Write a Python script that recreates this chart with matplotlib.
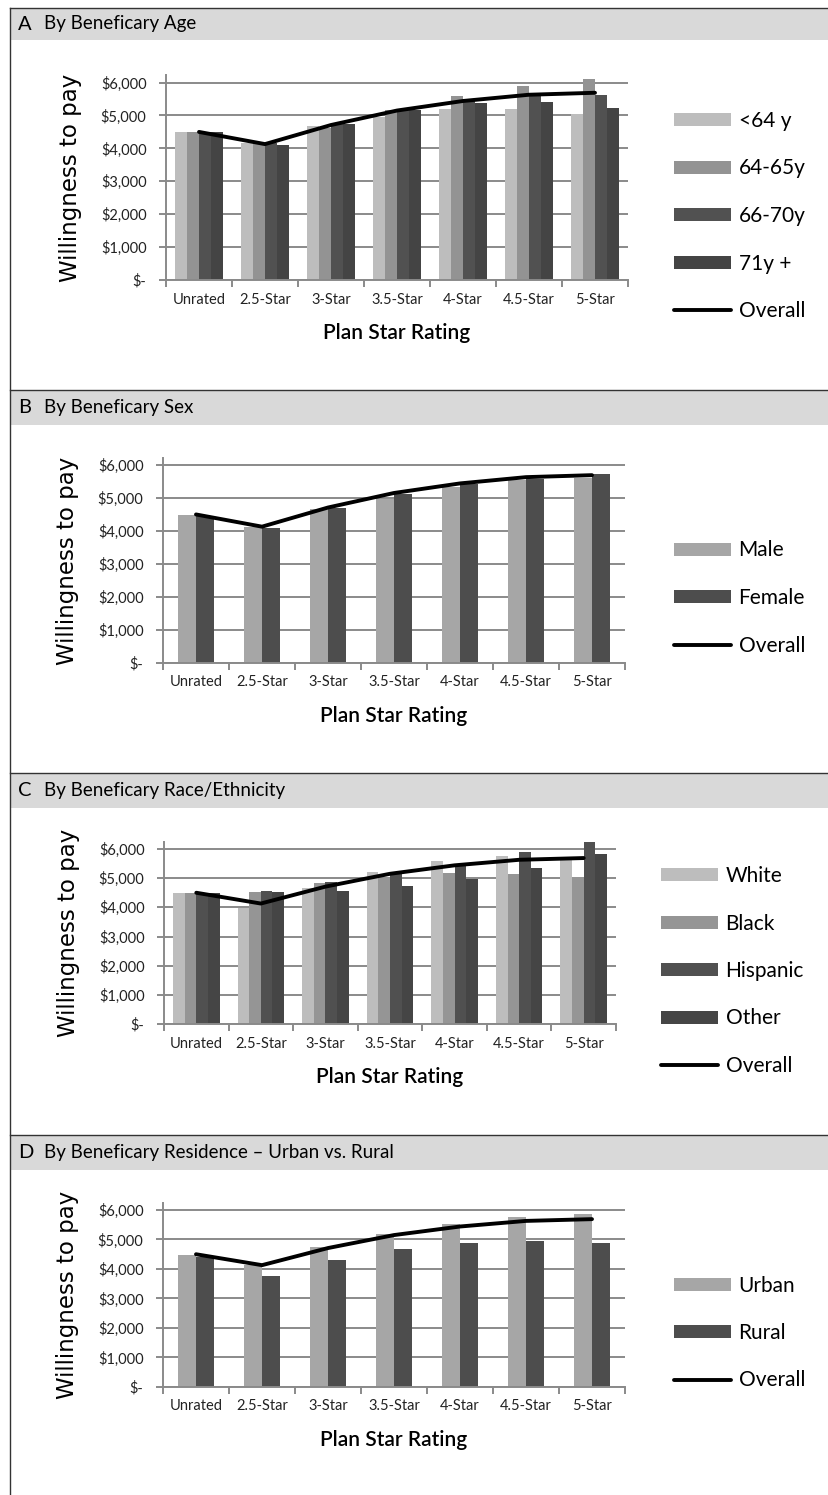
import numpy as np
import matplotlib.pyplot as plt
from matplotlib.patches import Rectangle
from matplotlib.lines import Line2D

plt.rcParams['font.family'] = ['Lato', 'DejaVu Sans']

W, H = 829, 1495

categories = ['Unrated', '2.5-Star', '3-Star', '3.5-Star', '4-Star', '4.5-Star', '5-Star']
overall = [4500, 4130, 4710, 5150, 5440, 5630, 5690]

# A: age groups
age_labels = ['<64 y', '64-65y', '66-70y', '71y +']
age_lt64 = [4500, 4160, 4680, 4950, 5190, 5200, 5050]
age_64_65 = [4500, 4160, 4620, 5170, 5600, 5900, 6110]
age_66_70 = [4500, 4160, 4740, 5170, 5450, 5640, 5630]
age_71 = [4500, 4100, 4740, 5170, 5370, 5420, 5240]

# B: sex
sex_labels = ['Male', 'Female']
sex_male = [4470, 4110, 4660, 4960, 5330, 5550, 5590]
sex_female = [4460, 4090, 4700, 5130, 5410, 5570, 5720]

# C: race / ethnicity
race_labels = ['White', 'Black', 'Hispanic', 'Other']
race_white = [4490, 3970, 4680, 5200, 5580, 5750, 5640]
race_black = [4490, 4510, 4830, 5030, 5170, 5150, 5030]
race_hispanic = [4490, 4570, 4870, 5140, 5430, 5900, 6270]
race_other = [4490, 4510, 4570, 4720, 4980, 5340, 5820]

# D: residence
res_labels = ['Urban', 'Rural']
res_urban = [4470, 4140, 4750, 5190, 5510, 5750, 5850]
res_rural = [4420, 3770, 4290, 4670, 4880, 4960, 4870]

ytick_vals = [0, 1000, 2000, 3000, 4000, 5000, 6000]
ytick_text = ['$-', '$1,000', '$2,000', '$3,000', '$4,000', '$5,000', '$6,000']

GRID = '#8a8a8a'

fig = plt.figure(figsize=(W / 100, H / 100), dpi=100)


def px_rect(left, top, right, bottom):
    return [left / W, 1 - bottom / H, (right - left) / W, (bottom - top) / H]


def header(top, bottom, letter, title):
    fig.patches.append(Rectangle((10 / W, 1 - bottom / H), 1, (bottom - top) / H,
                                 transform=fig.transFigure, facecolor='#d9d9d9',
                                 edgecolor='none', zorder=0))
    fig.lines.append(Line2D([10 / W, 1], [1 - top / H] * 2, transform=fig.transFigure,
                            color='#333333', lw=1.0))
    yc = 1 - (top + bottom) / 2 / H
    fig.text(18 / W, yc, letter, fontsize=14.5, va='center', ha='left')
    fig.text(44 / W, yc, title, fontsize=13.5, va='center', ha='left')


def panel(rect, ytop, series, labels, colors, width, leg_x, leg_y):
    ax = fig.add_axes(rect)
    x = np.arange(len(categories))
    n = len(series)
    handles = []
    for i, (vals, lab, col) in enumerate(zip(series, labels, colors)):
        off = (i - (n - 1) / 2) * width
        b = ax.bar(x + off, vals, width, color=col, label=lab, zorder=2)
        handles.append(b)
    ln, = ax.plot(x, overall, color='black', lw=2.8, solid_capstyle='round',
                  label='Overall', zorder=3)
    handles.append(ln)
    ax.set_xlim(-0.5, len(categories) - 0.5)
    ax.set_ylim(0, ytop)
    ax.set_yticks(ytick_vals)
    ax.set_yticklabels(ytick_text, fontsize=10.5, color='#222222')
    ax.yaxis.grid(True, color=GRID, lw=1.4, zorder=0)
    ax.set_axisbelow(True)
    ax.set_xticks(np.arange(len(categories) + 1) - 0.5)
    ax.set_xticklabels([])
    ax.set_xticks(x, minor=True)
    ax.set_xticklabels(categories, minor=True, fontsize=10.5, color='#222222')
    ax.tick_params(axis='x', which='major', length=5, width=1.4, color=GRID)
    ax.tick_params(axis='x', which='minor', length=0, pad=9)
    ax.tick_params(axis='y', length=5, width=1.4, color=GRID, pad=9)
    for s in ['top', 'right']:
        ax.spines[s].set_visible(False)
    for s in ['left', 'bottom']:
        ax.spines[s].set_color(GRID)
        ax.spines[s].set_linewidth(1.4)
    ax.set_ylabel('Willingness to pay', fontsize=16.5, family='DejaVu Sans')
    ax.yaxis.set_label_coords(-84 / (rect[2] * W), 0.5)
    ax.set_xlabel('Plan Star Rating', fontsize=15, fontweight='semibold', labelpad=12)
    ax.legend(handles=handles, loc='center left',
              bbox_to_anchor=(leg_x / W, 1 - leg_y / H),
              bbox_transform=fig.transFigure, frameon=False, fontsize=15,
              handlelength=2.75, handleheight=0.6, handletextpad=0.35,
              labelspacing=1.32, borderpad=0, borderaxespad=0)
    return ax


# outer frame line down the left side
fig.lines.append(Line2D([10 / W, 10 / W], [1 - 8 / H, 0], transform=fig.transFigure,
                        color='#333333', lw=1.0))

header(8, 40, 'A', 'By Beneficary Age')
panel(px_rect(166, 75, 628, 280), 6230,
      [age_lt64, age_64_65, age_66_70, age_71], age_labels,
      ['#bdbdbd', '#939393', '#515151', '#444444'], 0.18, 674, 216)

header(390, 425, 'B', 'By Beneficary Sex')
panel(px_rect(163, 458, 625, 663), 6210,
      [sex_male, sex_female], sex_labels,
      ['#a6a6a6', '#4d4d4d'], 0.28, 674, 598)

header(773, 808, 'C', 'By Beneficary Race/Ethnicity')
panel(px_rect(164, 842, 616, 1024), 6240,
      [race_white, race_black, race_hispanic, race_other], race_labels,
      ['#bdbdbd', '#959595', '#505050', '#454545'], 0.18, 661, 971)

header(1135, 1170, 'D', 'By Beneficary Residence \u2013 Urban vs. Rural')
panel(px_rect(163, 1203, 625, 1387), 6237,
      [res_urban, res_rural], res_labels,
      ['#a6a6a6', '#4d4d4d'], 0.28, 674, 1333)

fig.savefig('out.png', dpi=100, facecolor='white')
